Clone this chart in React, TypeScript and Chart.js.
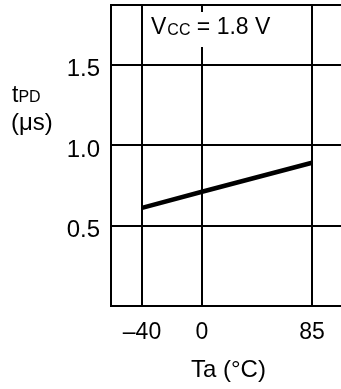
import React, { useEffect, useRef } from 'react';
import { Chart, registerables, LinearScale } from 'chart.js';

// ---- data ----
const temperatures = [-40, 0, 85];
const tpdValues = [0.61, 0.71, 0.89];
const xTickValues = [-40, 0, 85];
const yTickValues = [0, 0.5, 1.0, 1.5, 1.87];
const yLabeled = [0.5, 1.0, 1.5];
const Y_MIN = 0;
const Y_MAX = 1.87;

// ---- layout (non-uniform x axis of the source graph) ----
// [value, fraction of chart-area width]
const X_BREAKPOINTS: number[][] = [
  [-60.7, 0],
  [-40, 31 / 259],
  [0, 91 / 259],
  [85, 201 / 259],
  [130.6, 1],
];

const FONT = "'Liberation Sans', Arial, sans-serif";

class PiecewiseScale extends LinearScale {
  static id = 'piecewise';
  static defaults = {};
  toDecimal(v: number) {
    const bp = X_BREAKPOINTS;
    for (let i = 0; i < bp.length - 1; i++) {
      const [v0, f0] = bp[i];
      const [v1, f1] = bp[i + 1];
      if (v <= v1 || i === bp.length - 2) {
        return f0 + ((v - v0) / (v1 - v0)) * (f1 - f0);
      }
    }
    return 0;
  }
  fromDecimal(d: number) {
    const bp = X_BREAKPOINTS;
    for (let i = 0; i < bp.length - 1; i++) {
      const [v0, f0] = bp[i];
      const [v1, f1] = bp[i + 1];
      if (d <= f1 || i === bp.length - 2) {
        return v0 + ((d - f0) / (f1 - f0)) * (v1 - v0);
      }
    }
    return 0;
  }
  getPixelForValue(value: number) {
    if (value === null || value === undefined) return NaN;
    return (this as any).getPixelForDecimal(this.toDecimal(value));
  }
  getValueForPixel(pixel: number) {
    return this.fromDecimal((this as any).getDecimalForPixel(pixel));
  }
}

Chart.register(...registerables, PiecewiseScale as any);

const annotations = {
  id: 'annotations',
  afterDraw(chart: any) {
    const ctx = chart.ctx as CanvasRenderingContext2D;
    ctx.save();
    // white box behind the condition label
    ctx.fillStyle = '#ffffff';
    ctx.fillRect(148, 12, 130, 35);
    ctx.fillStyle = '#000000';
    ctx.textBaseline = 'alphabetic';
    ctx.textAlign = 'left';
    // V_CC = 1.8 V
    let x = 151;
    ctx.font = `23px ${FONT}`;
    ctx.fillText('V', x, 34);
    x += ctx.measureText('V').width;
    ctx.font = `16px ${FONT}`;
    ctx.fillText('CC', x + 1, 35);
    x += ctx.measureText('CC').width + 1;
    ctx.font = `23px ${FONT}`;
    ctx.fillText(' = 1.8 V', x, 34);

    // y title t_PD (μs)
    ctx.font = `23px ${FONT}`;
    ctx.fillText('t', 12, 102);
    const tw = ctx.measureText('t').width;
    ctx.font = `16px ${FONT}`;
    ctx.fillText('PD', 12 + tw, 102);
    ctx.font = `24px ${FONT}`;
    ctx.fillText('(μs)', 11, 130);

    // x title
    ctx.font = `24px ${FONT}`;
    ctx.fillText('Ta (°C)', 191, 377);
    ctx.restore();
  },
};

export default function App() {
  const ref = useRef<HTMLCanvasElement>(null);
  useEffect(() => {
    if (!ref.current) return;
    const chart = new Chart(ref.current, {
      type: 'line',
      data: {
        datasets: [
          {
            data: temperatures.map((t, i) => ({ x: t, y: tpdValues[i] })),
            borderColor: '#000000',
            borderWidth: 4.5,
            pointRadius: 0,
            tension: 0,
            borderCapStyle: 'butt',
          },
        ],
      },
      options: {
        animation: false,
        responsive: false,
        devicePixelRatio: 1,
        layout: { padding: { top: 5, right: 10, left: 0, bottom: 0 } },
        plugins: {
          legend: { display: false },
          tooltip: { enabled: false },
        },
        scales: {
          x: {
            type: 'piecewise' as any,
            min: -60.7,
            max: 130.6,
            afterBuildTicks: (s: any) => {
              s.ticks = xTickValues.map((v) => ({ value: v }));
            },
            afterFit: (s: any) => {
              s.height = 83;
              s.paddingLeft = 0;
              s.paddingRight = 0;
            },
            grid: { color: '#000', lineWidth: 2, drawTicks: false },
            border: { display: true, color: '#000', width: 2 },
            ticks: {
              color: '#000',
              font: { family: FONT, size: 23 },
              padding: 13,
              maxRotation: 0,
              autoSkip: false,
              callback: (v: any) => (v < 0 ? '–' + Math.abs(v) : String(v)),
            },
          },
          y: {
            type: 'linear',
            min: Y_MIN,
            max: Y_MAX,
            afterBuildTicks: (s: any) => {
              s.ticks = yTickValues.map((v) => ({ value: v }));
            },
            afterFit: (s: any) => {
              s.width = 111;
              s.paddingTop = 0;
              s.paddingBottom = 0;
            },
            grid: { color: '#000', lineWidth: 2, drawTicks: false },
            border: { display: true, color: '#000', width: 2 },
            ticks: {
              color: '#000',
              font: { family: FONT, size: 24 },
              padding: 11,
              labelOffset: 5,
              autoSkip: false,
              callback: (v: any) => (yLabeled.includes(v) ? Number(v).toFixed(1) : ''),
            },
          },
        },
      },
      plugins: [annotations],
    });
    return () => chart.destroy();
  }, []);
  return (
    <div
      style={{
        position: 'fixed',
        left: 0,
        top: 0,
        width: 341,
        height: 389,
        overflow: 'hidden',
        background: '#fff',
      }}
    >
      <canvas ref={ref} width={380} height={389} style={{ display: 'block' }} />
    </div>
  );
}
